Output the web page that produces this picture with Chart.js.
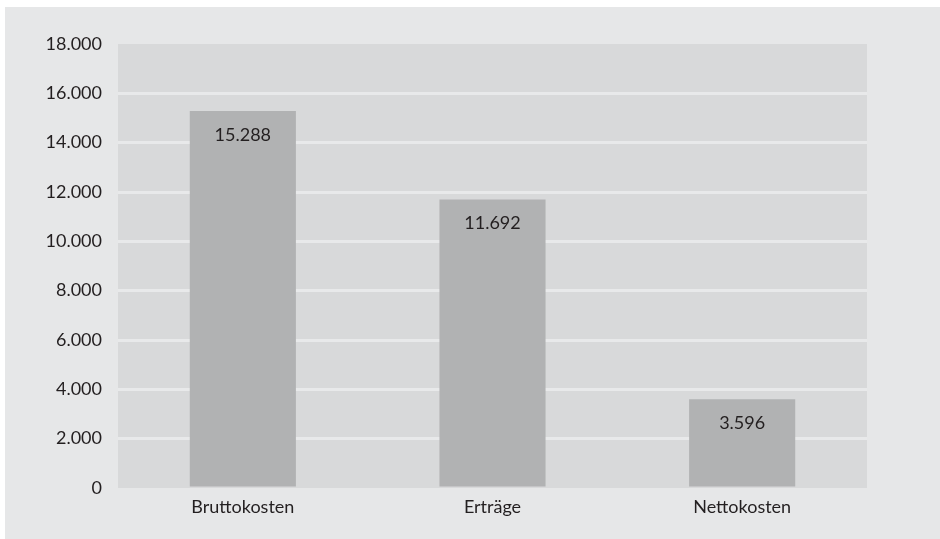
<!DOCTYPE html>
<html>
<head>
<meta charset="utf-8">
<script src="https://cdn.jsdelivr.net/npm/chart.js@4.4.0/dist/chart.umd.min.js"></script>
<style>
    html, body { margin: 0; padding: 0; background: #ffffff; }
    #wrap { position: absolute; left: 5px; top: 7px; width: 935px; height: 532px; background: #e6e7e8; }
</style>
</head>
<body>
<div id="wrap"><canvas id="kostenChart" width="935" height="532"></canvas></div>
<script>
// Daten
const kategorien = ['Bruttokosten', 'Erträge', 'Nettokosten'];
const werte = [15288, 11692, 3596];
const yMax = 18000;
const yStep = 2000;

const schrift = "Lato, 'Open Sans', sans-serif";

function formatZahl(v) {
    return v.toLocaleString('de-DE');
}

// Hintergrund der Zeichenfläche
const plotBg = {
    id: 'plotBg',
    beforeDraw(chart) {
        const { ctx, chartArea: a } = chart;
        ctx.save();
        ctx.fillStyle = '#d8d9da';
        ctx.fillRect(a.left, a.top, a.right - a.left, a.bottom - a.top);
        ctx.restore();
    }
};

// Werte in die Balken schreiben
const wertLabels = {
    id: 'wertLabels',
    afterDatasetsDraw(chart) {
        const { ctx } = chart;
        const meta = chart.getDatasetMeta(0);
        ctx.save();
        ctx.fillStyle = '#231f20';
        ctx.font = '18px ' + schrift;
        ctx.textAlign = 'center';
        ctx.textBaseline = 'middle';
        meta.data.forEach((bar, i) => {
            ctx.fillText(formatZahl(werte[i]), bar.x, bar.y + 24);
        });
        ctx.restore();
    }
};

new Chart(document.getElementById('kostenChart'), {
    type: 'bar',
    data: {
        labels: kategorien,
        datasets: [{
            data: werte,
            backgroundColor: '#b1b2b3',
            borderWidth: 0,
            barPercentage: 0.425,
            categoryPercentage: 1.0
        }]
    },
    options: {
        responsive: false,
        animation: false,
        layout: { padding: { top: 37, right: 73, bottom: 0, left: 0 } },
        plugins: {
            legend: { display: false },
            tooltip: { enabled: false }
        },
        scales: {
            x: {
                grid: { display: false, drawTicks: false },
                border: { display: false },
                ticks: {
                    color: '#231f20',
                    font: { family: schrift, size: 18 },
                    padding: 8
                },
                afterFit(scale) { scale.height = 51; }
            },
            y: {
                min: 0,
                max: yMax,
                ticks: {
                    stepSize: yStep,
                    color: '#231f20',
                    font: { family: schrift, size: 18 },
                    padding: 16,
                    callback: v => formatZahl(v)
                },
                grid: {
                    drawTicks: false,
                    lineWidth: 3,
                    color: c => (c.tick && (c.tick.value === 0 || c.tick.value === yMax)) ? 'rgba(0,0,0,0)' : '#e8e9ea'
                },
                border: { display: false },
                afterFit(scale) { scale.width = 113; }
            }
        }
    },
    plugins: [plotBg, wertLabels]
});
</script>
</body>
</html>
